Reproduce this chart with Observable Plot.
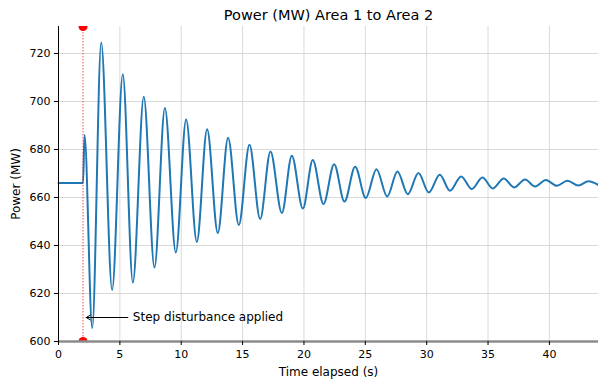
<!DOCTYPE html>
<html><head><meta charset="utf-8">
<script src="https://cdn.jsdelivr.net/npm/d3@7"></script>
<script src="https://cdn.jsdelivr.net/npm/@observablehq/plot@0.6"></script>
<style>body{margin:0;background:#fff} svg{font-family:"DejaVu Sans",sans-serif}</style>
</head><body><div id="chart"></div><script>
// Local extrema of the tie-line power signal
const times = [0, 2.0, 2.12, 2.75, 3.48, 4.37, 5.24, 6.06, 6.95, 7.82, 8.67, 9.56, 10.40, 11.27, 12.11, 12.98, 13.82, 14.69, 15.56, 16.43, 17.27, 18.2, 19.01, 19.91, 20.72, 21.59, 22.46, 23.30, 24.17, 25.04, 25.91, 26.78, 27.62, 28.46, 29.33, 30.17, 31.07, 31.9, 32.81, 33.68, 34.54, 35.39, 36.28, 37.12, 38.02, 38.83, 39.71, 40.60, 41.47, 42.36, 43.18, 44.0];
const power = [666, 666, 686, 605.6, 724.6, 621.5, 711.4, 624.6, 702, 630.8, 697.3, 637.1, 692.5, 641.5, 688.4, 645.2, 684.9, 648.5, 682.0, 651.0, 679.2, 653.5, 677.4, 655.4, 675.6, 657.3, 673.9, 658.3, 672.8, 659.8, 671.8, 660.4, 670.8, 661.4, 670.2, 662.1, 669.5, 662.8, 668.8, 663.5, 668.3, 663.8, 667.9, 664.2, 667.5, 664.6, 667.3, 664.9, 667.0, 665.0, 666.8, 665.2];
const xTicks = [0, 5, 10, 15, 20, 25, 30, 35, 40];
const yTicks = [600, 620, 640, 660, 680, 700, 720];
const xDomain = [0, 44];
const yDomain = [600, 731.25];
const stepTime = [2];
const stepMarkerPower = [600, 731.25];
const annotationText = ["Step disturbance applied"];
const annotationTextAt = [6.06, 610];
const arrowFrom = [5.65, 610];
const arrowTo = [2.26, 610];
const titleText = ["Power (MW) Area 1 to Area 2"];
const xLabel = ["Time elapsed (s)"];
const yLabel = ["Power (MW)"];

const data = times.map((t, i) => ({t, p: power[i]}));
const markers = stepMarkerPower.map(p => ({t: stepTime[0], p}));

const chart = Plot.plot({
  width: 598, height: 383,
  marginLeft: 58, marginRight: 0, marginTop: 26, marginBottom: 42,
  style: {fontFamily: "DejaVu Sans", fontSize: "11px", color: "black", background: "white", overflow: "visible"},
  x: {domain: xDomain},
  y: {domain: yDomain},
  marks: [
    Plot.gridX({ticks: xTicks, stroke: "#d9d9d9", strokeOpacity: 1, strokeWidth: 1}),
    Plot.gridY({ticks: yTicks, stroke: "#d9d9d9", strokeOpacity: 1, strokeWidth: 1}),
    Plot.line(data, {x: "t", y: "p", stroke: "#1f77b4", strokeWidth: 2, curve: "monotone-x"}),
    Plot.ruleX(stepTime, {stroke: "red", strokeOpacity: 0.55, strokeWidth: 1.3, strokeDasharray: "1.5,1.5"}),
    Plot.dot(markers, {x: "t", y: "p", r: 4.5, fill: "red", stroke: "none", clip: true}),
    Plot.ruleY([yDomain[0]], {stroke: "#8c8c8c", strokeWidth: 2.5}),
    Plot.ruleX([xDomain[0]], {stroke: "black", strokeWidth: 1}),
    Plot.axisX({ticks: xTicks, tickSize: 4, tickPadding: 5, label: null, fontSize: 11}),
    Plot.axisY({ticks: yTicks, tickSize: 4, tickPadding: 4, label: null, fontSize: 11}),
    Plot.arrow([0], {x1: () => arrowFrom[0], y1: () => arrowFrom[1], x2: () => arrowTo[0], y2: () => arrowTo[1], stroke: "black", strokeWidth: 1, headLength: 7, headAngle: 60}),
    Plot.text(annotationText, {x: () => annotationTextAt[0], y: () => annotationTextAt[1], text: d => d, textAnchor: "start", lineAnchor: "middle", fontSize: 12, fill: "black"}),
    Plot.text(titleText, {text: d => d, frameAnchor: "top", textAnchor: "middle", lineAnchor: "middle", dy: -11.3, fontSize: 14.5, fill: "black"}),
    Plot.text(xLabel, {text: d => d, frameAnchor: "bottom", textAnchor: "middle", lineAnchor: "middle", dy: 30.2, fontSize: 12, fill: "black"}),
    Plot.text(yLabel, {text: d => d, frameAnchor: "left", textAnchor: "middle", lineAnchor: "middle", rotate: -90, dx: -42, fontSize: 12, fill: "black"})
  ]
});
document.getElementById("chart").appendChild(chart);
</script></body></html>
